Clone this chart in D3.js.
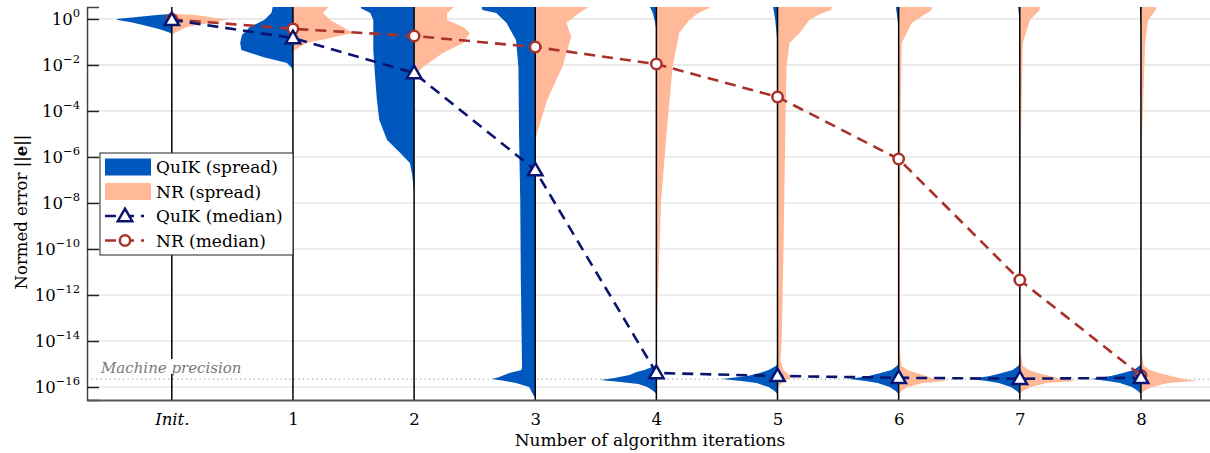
<!DOCTYPE html>
<html>
<head>
<meta charset="utf-8">
<script src="https://cdn.jsdelivr.net/npm/d3@7"></script>
<style>
  body { margin: 0; background: #fff; }
  svg { display: block; font-family: "DejaVu Serif", "Liberation Serif", serif; }
</style>
</head>
<body>
<svg width="1210" height="453"></svg>
<script>
// iteration labels (x positions 0..8)
var iterLabels = ["Init.", "1", "2", "3", "4", "5", "6", "7", "8"];

// median normed error, log10 exponent per iteration
var quikMedian = [-0.04, -0.83, -2.35, -6.57, -15.39, -15.52, -15.6, -15.64, -15.6];
var nrMedian   = [-0.02, -0.43, -0.74, -1.22, -1.96, -3.39, -6.09, -11.35, -15.5];

var machineEps = 2.22e-16;
var yTickExp = [0, -2, -4, -6, -8, -10, -12, -14, -16];

// spread (density profile): [log10 error, relative density]
var quikSpread = [
  [[0.3,0],[0.22,0.02],[0.17,0.25],[0.09,0.58],[0.0,0.92],[-0.04,0.9],[-0.13,0.7],[-0.26,0.48],[-0.45,0.2],[-0.6,0.03],[-0.65,0]],
  [[0.6,0.33],[0.26,0.36],[-0.04,0.48],[-0.35,0.72],[-0.7,0.85],[-1.04,0.88],[-1.35,0.86],[-1.65,0.5],[-1.91,0.1],[-2.1,0.03],[-2.25,0]],
  [[0.6,0.9],[0.45,0.88],[0.26,0.73],[-0.04,0.68],[-1.35,0.68],[-2.5,0.65],[-3.52,0.62],[-4.39,0.58],[-5.26,0.45],[-5.83,0.23],[-6.26,0.07],[-6.8,0.03],[-7.3,0.01],[-7.5,0]],
  [[0.6,0.9],[0.39,0.88],[0.26,0.65],[-0.17,0.48],[-0.91,0.32],[-2.09,0.28],[-4.96,0.27],[-7.87,0.25],[-11.35,0.24],[-15.13,0.22],[-15.26,0.23],[-15.39,0.43],[-15.57,0.6],[-15.65,0.72],[-15.74,0.5],[-15.83,0.32],[-16.0,0.1],[-16.26,0.05],[-16.48,0]],
  [[0.6,0.12],[0.26,0.06],[-0.17,0.02],[-0.5,0],[-15.0,0],[-15.09,0.03],[-15.26,0.2],[-15.35,0.33],[-15.48,0.45],[-15.61,0.7],[-15.7,0.93],[-15.78,0.6],[-15.87,0.3],[-16.0,0.15],[-16.17,0.05],[-16.3,0]],
  [[0.6,0.08],[0,0.04],[-1.04,0],[-15.0,0],[-15.09,0.03],[-15.26,0.15],[-15.39,0.3],[-15.52,0.5],[-15.65,0.93],[-15.74,0.6],[-15.83,0.35],[-16.0,0.15],[-16.17,0.05],[-16.3,0]],
  [[0.6,0.05],[0,0.02],[-0.4,0],[-15.0,0],[-15.09,0.03],[-15.26,0.12],[-15.39,0.3],[-15.52,0.5],[-15.65,0.83],[-15.74,0.55],[-15.83,0.35],[-16.0,0.15],[-16.17,0.05],[-16.3,0]],
  [[0.6,0.03],[0,0.01],[-0.3,0],[-15.0,0],[-15.09,0.03],[-15.26,0.12],[-15.39,0.3],[-15.52,0.5],[-15.65,0.82],[-15.74,0.55],[-15.83,0.35],[-16.0,0.15],[-16.17,0.05],[-16.3,0]],
  [[0.6,0.02],[0,0.01],[-0.3,0],[-15.0,0],[-15.09,0.03],[-15.26,0.12],[-15.39,0.3],[-15.52,0.5],[-15.65,0.83],[-15.74,0.55],[-15.83,0.35],[-16.0,0.15],[-16.17,0.05],[-16.3,0]]
];
var nrSpread = [
  [[0.25,0],[0.2,0.15],[0.17,0.4],[0.09,0.62],[-0.02,0.92],[-0.13,0.72],[-0.35,0.25],[-0.6,0.05],[-0.7,0]],
  [[0.6,0.62],[0.26,0.5],[-0.04,0.62],[-0.35,0.83],[-0.61,1.0],[-0.83,0.62],[-1.04,0.23],[-1.35,0.03],[-1.45,0]],
  [[0.6,0.7],[0.26,0.55],[-0.04,0.55],[-0.35,0.82],[-0.61,0.93],[-1.04,0.82],[-1.48,0.48],[-2.09,0.15],[-2.35,0.05],[-2.5,0]],
  [[0.6,0.9],[0.48,0.87],[0.26,0.73],[-0.17,0.52],[-0.78,0.6],[-2.09,0.45],[-3.52,0.2],[-4.96,0.03],[-5.3,0]],
  [[0.6,0.9],[0.48,0.88],[0.26,0.7],[-0.04,0.55],[-0.61,0.38],[-2.09,0.27],[-4.96,0.17],[-7.87,0.08],[-10.9,0.04],[-13.96,0]],
  [[0.6,0.9],[0.39,0.9],[0.2,0.7],[-0.04,0.53],[-0.61,0.37],[-1.04,0.2],[-2.09,0.15],[-4.96,0.13],[-10.0,0.1],[-13.96,0.07],[-14.83,0.05],[-15.26,0.1],[-15.52,0.22],[-15.65,0.2],[-15.78,0.08],[-16.04,0]],
  [[0.6,0.55],[0.39,0.55],[-0.17,0.22],[-1.04,0.05],[-5,0.03],[-14.5,0.02],[-15.09,0.05],[-15.26,0.15],[-15.39,0.3],[-15.52,0.45],[-15.65,0.6],[-15.74,0.8],[-15.83,0.4],[-16.0,0.15],[-16.17,0.05],[-16.3,0]],
  [[0.6,0.33],[0.39,0.33],[-0.04,0.17],[-1.04,0.05],[-5,0.02],[-14.5,0.01],[-15.09,0.05],[-15.26,0.15],[-15.39,0.3],[-15.52,0.5],[-15.65,0.7],[-15.74,0.95],[-15.83,0.45],[-16.0,0.18],[-16.17,0.05],[-16.3,0]],
  [[0.6,0.25],[0.39,0.25],[-0.04,0.12],[-1.04,0.07],[-5,0.02],[-14.5,0.01],[-15.09,0.05],[-15.26,0.15],[-15.39,0.3],[-15.52,0.5],[-15.65,0.7],[-15.74,0.93],[-15.83,0.45],[-16.0,0.18],[-16.17,0.05],[-16.3,0]]
];

var blue = "#0057bd", salmon = "#ffb999", navy = "#0b1570", darkRed = "#a8322b";
var serif = "DejaVu Serif, serif";

var svg = d3.select("svg");
var plotL = 87, plotR = 1210, plotT = 7, plotB = 400;

// scales
var x = d3.scaleLinear().domain([-0.7, 8.57]).range([plotL, plotR]);
var y = d3.scaleLog().domain([Math.pow(10, -16.565), Math.pow(10, 0.52)]).range([plotB, plotT]);
var w = d3.scaleLinear().domain([0, 1]).range([0, 60]);

svg.append("defs").append("clipPath").attr("id", "plot")
  .append("rect").attr("x", plotL).attr("y", plotT).attr("width", plotR - plotL).attr("height", plotB - plotT);

// gridlines
svg.append("g").selectAll("line").data(yTickExp).enter().append("line")
  .attr("x1", plotL).attr("x2", plotR)
  .attr("y1", function(d) { return y(Math.pow(10, d)); })
  .attr("y2", function(d) { return y(Math.pow(10, d)); })
  .style("stroke", "#dedede").style("stroke-width", 1.2);

// machine precision
svg.append("line")
  .attr("x1", plotL).attr("x2", plotR)
  .attr("y1", y(machineEps)).attr("y2", y(machineEps))
  .style("stroke", "#aaa").style("stroke-width", 1.2).style("stroke-dasharray", "1.2,3.3");

var plot = svg.append("g").attr("clip-path", "url(#plot)");

// spreads
function drawSpread(data, side, color) {
  data.forEach(function(prof, i) {
    var cx = x(i);
    var area = d3.area()
      .y(function(d) { return y(Math.pow(10, d[0])); })
      .x0(cx)
      .x1(function(d) { return cx + side * w(d[1]); });
    plot.append("path").datum(prof).attr("d", area).style("fill", color);
  });
}
drawSpread(quikSpread, -1, blue);
drawSpread(nrSpread, 1, salmon);

// vertical iteration lines
svg.append("g").selectAll("line").data(iterLabels).enter().append("line")
  .attr("x1", function(d, i) { return x(i); })
  .attr("x2", function(d, i) { return x(i); })
  .attr("y1", plotT).attr("y2", plotB)
  .style("stroke", "#000").style("stroke-width", 1.5);

// machine precision label
var mp = svg.append("g");
var mpText = mp.append("text").attr("x", 101).attr("y", y(machineEps) - 6)
  .style("font-style", "italic").style("font-size", "15px").style("fill", "#7a7a7a")
  .text("Machine precision");
var bb = mpText.node().getBBox();
mp.insert("rect", "text").attr("x", bb.x - 2).attr("y", bb.y).attr("width", bb.width + 4).attr("height", bb.height - 3)
  .style("fill", "#fff");

// median lines
var line = d3.line()
  .x(function(d, i) { return x(i); })
  .y(function(d) { return y(Math.pow(10, d)); });

svg.append("path").datum(nrMedian).attr("d", line)
  .style("fill", "none").style("stroke", darkRed).style("stroke-width", 2.6).style("stroke-dasharray", "11,7");
svg.append("path").datum(quikMedian).attr("d", line)
  .style("fill", "none").style("stroke", navy).style("stroke-width", 2.6).style("stroke-dasharray", "11,7");

var tri = d3.symbol().type(d3.symbolTriangle).size(90);
svg.append("g").selectAll("circle").data(nrMedian).enter().append("circle")
  .attr("cx", function(d, i) { return x(i); })
  .attr("cy", function(d) { return y(Math.pow(10, d)); })
  .attr("r", 5.2)
  .style("fill", "#fff").style("stroke", darkRed).style("stroke-width", 2.5);
svg.append("g").selectAll("path").data(quikMedian).enter().append("path")
  .attr("d", tri)
  .attr("transform", function(d, i) { return "translate(" + x(i) + "," + (y(Math.pow(10, d)) + 1) + ")"; })
  .style("fill", "#fff").style("stroke", navy).style("stroke-width", 2.5);

// axes
var yAxis = svg.append("g").attr("transform", "translate(" + plotL + ",0)")
  .call(d3.axisLeft(y).tickValues(yTickExp.map(function(e) { return Math.pow(10, e); })).tickSize(-12).tickFormat(""));
yAxis.select(".domain").style("stroke", "#444").style("stroke-width", 1.5);
yAxis.selectAll(".tick line").style("stroke", "#222").style("stroke-width", 1.5);

var yLab = svg.append("g").selectAll("text").data(yTickExp).enter().append("text")
  .attr("x", 80).attr("y", function(d) { return y(Math.pow(10, d)) + 6; })
  .attr("text-anchor", "end").style("font-size", "16.5px");
yLab.append("tspan").text("10");
yLab.append("tspan").attr("dy", -8).style("font-size", "11.5px")
  .text(function(d) { return d === 0 ? "0" : "\u2212" + (-d); });

var xAxis = svg.append("g").attr("transform", "translate(0," + plotB + ")")
  .call(d3.axisBottom(x).tickValues(d3.range(iterLabels.length)).tickSize(0)
    .tickFormat(function(d) { return iterLabels[d]; }));
xAxis.select(".domain").style("stroke", "#555").style("stroke-width", 2);
xAxis.selectAll(".tick text")
  .attr("dy", 0).attr("y", 25)
  .style("font-size", "16.5px").style("font-family", serif).style("fill", "#000")
  .style("font-style", function(d) { return d === 0 ? "italic" : "normal"; });

svg.append("text").attr("x", 650).attr("y", 446).attr("text-anchor", "middle")
  .style("font-size", "17px").text("Number of algorithm iterations");

var yt = svg.append("text").attr("transform", "translate(27,212) rotate(-90)")
  .attr("text-anchor", "middle").style("font-size", "16.5px");
yt.append("tspan").text("Normed error ||");
yt.append("tspan").style("font-weight", "bold").text("e");
yt.append("tspan").text("||");

// legend
var lg = svg.append("g");
lg.append("rect").attr("x", 100).attr("y", 153).attr("width", 193).attr("height", 102)
  .style("fill", "#fff").style("stroke", "#222").style("stroke-width", 1);
var legendItems = [
  {label: "QuIK (spread)", kind: "patch", color: blue},
  {label: "NR (spread)", kind: "patch", color: salmon},
  {label: "QuIK (median)", kind: "tri", color: navy},
  {label: "NR (median)", kind: "circ", color: darkRed}
];
legendItems.forEach(function(it, i) {
  var cy = 167 + i * 24.5;
  if (it.kind === "patch") {
    lg.append("rect").attr("x", 105).attr("y", cy - 8.5).attr("width", 46).attr("height", 17).style("fill", it.color);
  } else {
    lg.append("line").attr("x1", 105).attr("x2", 144).attr("y1", cy).attr("y2", cy)
      .style("stroke", it.color).style("stroke-width", 2.6).style("stroke-dasharray", "11,7");
    if (it.kind === "tri") {
      lg.append("path").attr("d", tri).attr("transform", "translate(125," + (cy + 1) + ")")
        .style("fill", "#fff").style("stroke", it.color).style("stroke-width", 2.5);
    } else {
      lg.append("circle").attr("cx", 125).attr("cy", cy).attr("r", 5.2)
        .style("fill", "#fff").style("stroke", it.color).style("stroke-width", 2.5);
    }
  }
  lg.append("text").attr("x", 156).attr("y", cy + 6).style("font-size", "17px").text(it.label);
});
</script>
</body>
</html>
